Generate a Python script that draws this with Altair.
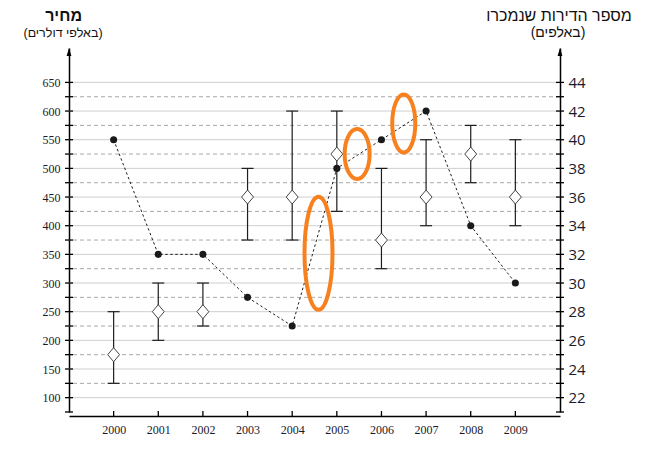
import altair as alt
import pandas as pd

# ---- data ----
years = [2000, 2001, 2002, 2003, 2004, 2005, 2006, 2007, 2008, 2009]
price_mid = [175, 250, 250, 450, 450, 525, 375, 450, 525, 450]
price_low = [125, 200, 225, 375, 375, 425, 325, 400, 475, 400]
price_high = [250, 300, 300, 500, 600, 600, 500, 550, 575, 550]
sold = [40, 32, 32, 29, 27, 38, 40, 42, 34, 30]
highlight_starts = [2004, 2005, 2006]

price_ticks = list(range(75, 651, 25))
price_labels = list(range(100, 651, 50))
sold_labels = list(range(22, 45, 2))

left_title = "מחיר"
left_sub = "(באלפי דולרים)"
right_title = "מספר הדירות שנמכרו"
right_sub = "(באלפים)"

# ---- tables ----
df = pd.DataFrame({"year": years, "mid": price_mid, "low": price_low,
                   "high": price_high, "sold": sold})
ticks_df = pd.DataFrame({"v": price_ticks})
solid_df = pd.DataFrame({"v": price_labels})
dash_df = pd.DataFrame({"v": [t for t in price_ticks if t not in price_labels and t > price_ticks[0]]})
yr_df = pd.DataFrame({"year": years})

mids = []
for s in highlight_starts:
    i = years.index(s)
    mids.append({"x": (years[i] + years[i + 1]) / 2, "y": (sold[i] + sold[i + 1]) / 2})

PD = [75, 710]
SD = [21, 46.4]


def xs():
    return alt.Scale(domain=[1999, 2010], nice=False, zero=False)


def ps():
    return alt.Scale(domain=PD, nice=False, zero=False)


def ss():
    return alt.Scale(domain=SD, nice=False, zero=False)


INK = "#1e1e1e"
SERIF = "Liberation Serif"
SANS = "Liberation Sans"

left_axis = alt.Axis(orient="left", values=price_labels, ticks=False, tickSize=0,
                     domain=True, domainColor="black", domainWidth=1.5,
                     labelFont=SERIF, labelFontSize=12, labelColor="#1a1a2a",
                     labelPadding=9, grid=False, title=None)
right_axis = alt.Axis(orient="right", values=sold_labels, ticks=False, tickSize=0,
                      domain=True, domainColor="black", domainWidth=1.5,
                      labelFont="Open Sans", labelFontSize=15, labelColor="#1a1a2a",
                      labelPadding=8, grid=False, title=None)


def x_axis():
    return alt.Axis(values=years, format="d", offset=4, ticks=False, tickSize=0,
                    domain=True, domainColor="black", domainWidth=1.5,
                    labelFont=SERIF, labelFontSize=12, labelColor="#1a1a2a",
                    labelPadding=8, grid=False, title=None)


def X(field):
    return alt.X(field, scale=xs(), axis=x_axis())


grid_solid = alt.Chart(solid_df).mark_rule(color="#cfcfcf", strokeWidth=1).encode(
    y=alt.Y("v:Q", scale=ps(), axis=left_axis))
grid_dash = alt.Chart(dash_df).mark_rule(color="#a9a9a9", strokeWidth=1, strokeDash=[4, 3]).encode(
    y=alt.Y("v:Q", scale=ps(), axis=None))

left_ticks = alt.Chart(ticks_df).mark_rule(color="black", strokeWidth=1.3, xOffset=-4, x2Offset=4).encode(
    x=alt.XDatum(1999, type="quantitative", scale=xs(), axis=x_axis()), x2=alt.X2Datum(1999),
    y=alt.Y("v:Q", scale=ps(), axis=None))
right_ticks = alt.Chart(ticks_df).mark_rule(color="black", strokeWidth=1.3, xOffset=-4, x2Offset=4).encode(
    x=alt.XDatum(2010, type="quantitative", scale=xs(), axis=x_axis()), x2=alt.X2Datum(2010),
    y=alt.Y("v:Q", scale=ps(), axis=None))

x_ticks = alt.Chart(yr_df).mark_rule(color="black", strokeWidth=1.3, yOffset=4, y2Offset=-1).encode(
    x=X("year:Q"),
    y=alt.YDatum(75, type="quantitative", scale=ps(), axis=None), y2=alt.Y2Datum(75))

arrow_path = "M0,-1 L0.6,1 L-0.6,1 Z"
arrows = alt.Chart(pd.DataFrame({"x": [1999, 2010]})).mark_point(
    shape=arrow_path, size=64, filled=True, color="black", opacity=1, yOffset=4).encode(
    x=X("x:Q"),
    y=alt.YDatum(710, type="quantitative", scale=ps(), axis=None))

bars = alt.Chart(df).mark_rule(color=INK, strokeWidth=1.2).encode(
    x=X("year:Q"), y=alt.Y("low:Q", scale=ps(), axis=None), y2="high:Q")
cap_lo = alt.Chart(df).mark_rule(color=INK, strokeWidth=1.2, xOffset=-6, x2Offset=6).encode(
    x=X("year:Q"), x2="year:Q", y=alt.Y("low:Q", scale=ps(), axis=None))
cap_hi = alt.Chart(df).mark_rule(color=INK, strokeWidth=1.2, xOffset=-6, x2Offset=6).encode(
    x=X("year:Q"), x2="year:Q", y=alt.Y("high:Q", scale=ps(), axis=None))
diamonds = alt.Chart(df).mark_point(
    shape="M0,-1 L0.85,0 L0,1 L-0.85,0 Z", size=196, filled=True, fill="white",
    stroke="#444444", strokeWidth=1, opacity=1).encode(
    x=X("year:Q"), y=alt.Y("mid:Q", scale=ps(), axis=None))

line = alt.Chart(df).mark_line(color=INK, strokeWidth=1, strokeDash=[2.5, 2.5]).encode(
    x=X("year:Q"), y=alt.Y("sold:Q", scale=ss(), axis=right_axis))
dots = alt.Chart(df).mark_circle(size=50, color="#1a1a1a", opacity=1).encode(
    x=X("year:Q"), y=alt.Y("sold:Q", scale=ss(), axis=None))

ellipse_shapes = [(0.248, 12769, 4, 6), (0.5, 2500, -2, 0), (0.397, 3364, 0, -2)]
ellipses = []
for m, (r, sz, dx, dy) in zip(mids, ellipse_shapes):
    path = f"M{-r},0 A{r},1 0 1,0 {r},0 A{r},1 0 1,0 {-r},0 Z"
    ellipses.append(alt.Chart(pd.DataFrame([m])).mark_point(
        shape=path, size=sz, filled=False, stroke="#f7801f", strokeWidth=4,
        opacity=1, xOffset=dx, yOffset=dy).encode(
        x=X("x:Q"), y=alt.Y("y:Q", scale=ss(), axis=None)))


def label(text, x, y, size, weight="normal", align="center"):
    return alt.Chart(pd.DataFrame({"t": [text]})).mark_text(
        font=SANS, fontSize=size, fontWeight=weight, color="#111111",
        align=align, baseline="middle").encode(
        text="t:N", x=alt.value(x), y=alt.value(y))


titles = [
    label(left_title, 13, -32, 16, "bold", "right"),
    label(left_sub, -6, -15, 12.5),
    label(right_title, 490, -32, 16),
    label(right_sub, 489, -15, 14),
]

chart = alt.layer(grid_solid, grid_dash, left_ticks, right_ticks, x_ticks, arrows,
                  bars, cap_lo, cap_hi, diamonds, line, dots, *ellipses, *titles
                  ).resolve_scale(y="independent").properties(
    width=491, height=364,
    autosize=alt.AutoSizeParams(type="none"),
    padding={"left": 61, "top": 40, "right": 79, "bottom": 33},
    background="white",
).configure_view(strokeWidth=0)

chart.save("out.html", embed_options={"renderer": "svg", "actions": False})
